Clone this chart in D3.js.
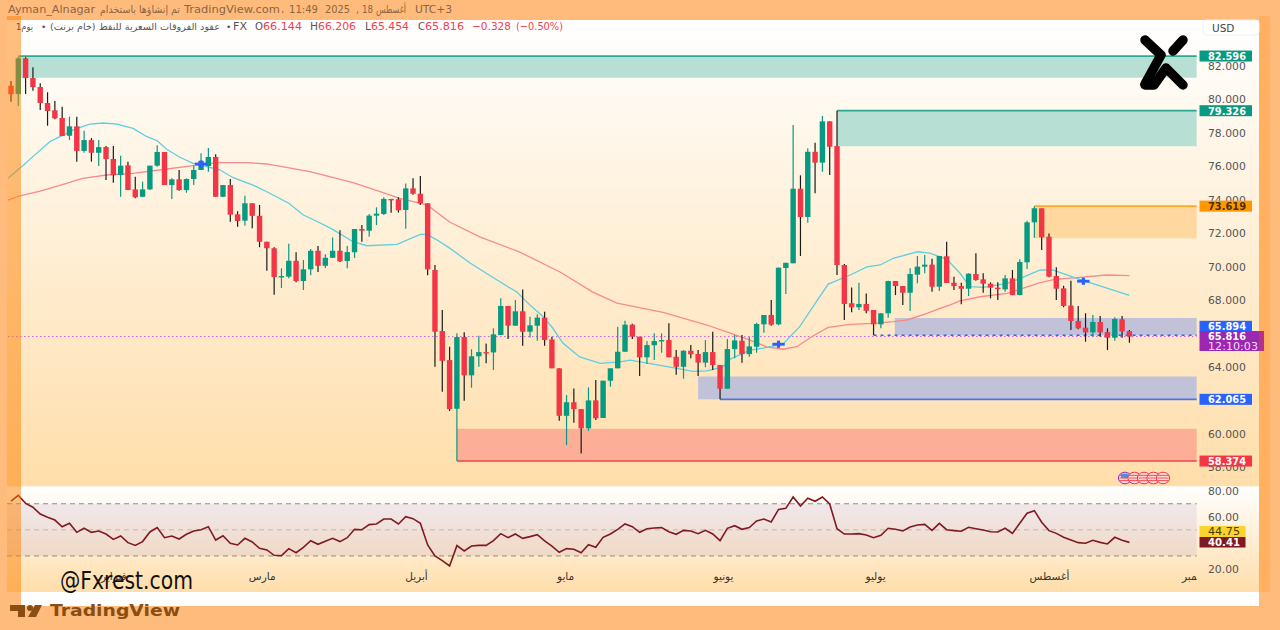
<!DOCTYPE html>
<html><head><meta charset="utf-8">
<script src="https://cdn.jsdelivr.net/npm/d3@7"></script>
<style>
html,body{margin:0;padding:0;background:#ffbb7c;width:1280px;height:630px;overflow:hidden}
svg{display:block}
text{font-family:"DejaVu Sans",sans-serif}
</style></head><body>
<svg id="c" width="1280" height="630"></svg>
<script>
const opens=[80.82,80.32,82.46,81.28,80.74,79.79,79.35,78.89,77.83,78.39,76.92,77.57,76.81,77.15,76.44,75.48,76.06,74.62,74.18,74.62,76.04,76.86,74.88,75.22,74.58,75.24,75.78,76.02,76.56,74.18,74.88,73.13,72.75,73.79,73.04,71.49,71.10,69.36,69.40,70.35,69.14,69.84,70.95,70.05,70.53,70.95,70.34,70.86,72.25,72.15,73.05,73.15,74.05,74.03,73.39,74.68,74.36,73.79,69.80,66.15,64.41,61.50,65.79,63.50,64.64,64.89,64.87,65.91,67.65,66.47,67.33,66.11,66.47,66.95,65.65,63.92,61.08,61.89,61.48,60.33,62.00,60.95,63.18,63.92,64.91,66.53,65.81,64.58,65.30,65.53,65.61,64.61,64.01,64.97,64.78,64.26,64.89,64.12,62.70,65.07,65.57,64.77,65.21,66.55,67.11,66.55,69.92,70.20,74.66,72.97,76.87,76.22,78.69,77.21,70.10,67.81,67.57,67.77,67.41,66.55,67.21,69.14,68.84,68.44,69.52,70.00,70.12,68.80,70.62,69.04,68.84,68.68,69.56,69.24,68.98,68.74,68.64,69.30,68.30,70.26,72.65,73.49,71.79,69.44,68.70,67.67,66.75,66.35,66.07,66.69,66.09,65.75,66.85,66.144];
const closes=[80.31,82.46,81.28,80.74,79.79,79.31,78.87,77.81,78.39,76.92,77.57,76.81,77.15,76.44,75.48,76.04,74.58,74.15,74.62,76.04,76.86,74.88,75.22,74.58,75.24,75.78,76.32,76.56,74.18,74.88,73.11,72.73,73.79,73.04,71.49,71.10,69.38,69.44,70.35,69.14,69.84,70.95,70.05,70.53,70.95,70.32,70.87,72.25,72.15,73.05,73.17,74.05,74.00,73.37,74.68,74.36,73.79,69.84,66.11,64.37,61.48,65.79,63.50,64.64,64.89,64.85,65.95,67.65,66.47,67.33,66.11,66.49,66.95,65.61,63.92,61.08,61.89,61.48,60.33,62.00,60.93,63.18,63.92,64.91,66.53,65.81,64.58,65.31,65.55,65.61,64.58,64.01,64.97,64.76,64.26,64.89,64.12,62.70,65.07,65.59,64.77,65.23,66.57,67.11,66.53,69.94,70.23,74.66,72.97,76.87,76.22,78.69,77.17,70.10,67.77,67.57,67.77,67.36,66.55,67.21,69.14,68.84,68.44,69.56,70.00,70.12,68.80,70.64,69.02,68.84,68.68,69.58,69.20,68.98,68.74,68.66,69.30,68.30,70.28,72.65,73.49,71.75,69.40,68.68,67.65,66.75,66.31,66.07,66.69,66.07,65.75,66.87,66.13,65.816];
const highs=[81.10,82.54,82.52,81.92,80.97,80.43,79.91,79.57,78.97,78.97,78.13,77.69,77.57,77.21,77.21,76.63,76.28,75.38,75.08,76.04,77.26,76.86,75.28,75.78,75.28,76.04,76.78,77.10,76.72,74.88,75.24,73.31,74.24,73.79,73.69,71.49,71.16,69.90,71.37,70.86,70.40,71.05,71.23,70.74,71.75,72.17,71.23,72.25,72.49,73.15,73.55,74.15,74.05,74.15,74.98,75.28,75.42,73.79,70.10,67.41,65.21,66.01,66.07,65.06,65.87,65.41,66.31,68.11,67.65,68.00,68.64,67.00,67.15,67.30,65.81,63.92,62.32,62.72,61.48,62.78,63.22,63.18,63.92,66.41,66.77,66.59,65.81,65.55,66.01,66.01,66.61,65.01,65.01,65.31,65.01,65.61,66.11,64.12,65.67,65.91,65.91,65.81,66.65,67.11,68.00,69.94,70.23,78.47,75.46,77.08,77.41,79.01,78.69,79.326,70.16,68.76,69.04,68.40,67.41,67.21,69.16,69.14,68.84,69.90,70.64,70.70,70.47,70.64,71.49,69.40,69.04,69.60,70.80,69.60,69.06,69.06,69.50,69.80,70.44,72.75,73.619,73.49,71.99,69.96,68.86,69.16,67.65,67.21,67.11,67.05,66.31,66.97,67.05,66.206];
const lows=[79.86,79.61,80.32,80.52,79.37,78.43,78.81,77.81,77.57,76.28,76.81,76.28,76.02,75.18,75.02,74.18,74.58,74.09,74.15,74.58,75.98,74.88,74.05,74.54,74.42,74.88,75.78,75.68,74.18,74.15,72.69,72.39,72.45,72.29,71.16,69.76,68.32,68.72,69.30,69.06,68.60,69.48,69.68,69.92,70.52,70.28,69.90,70.52,71.49,71.79,72.49,73.09,73.23,73.23,72.27,74.30,73.69,69.48,64.01,62.52,61.37,58.374,61.98,62.76,64.01,64.22,63.82,65.91,65.67,66.47,65.27,65.77,65.57,65.27,63.92,60.79,59.33,60.67,58.83,60.19,60.83,60.95,62.82,63.92,64.91,65.67,63.46,64.18,64.41,64.85,64.58,63.54,63.30,64.52,63.46,63.98,63.82,62.065,62.70,64.52,64.25,64.61,64.85,66.05,66.47,66.49,68.36,70.20,70.64,72.63,74.39,75.68,75.48,69.50,66.81,67.27,67.41,67.21,65.91,66.31,66.95,68.30,67.71,67.35,69.00,69.60,68.50,68.54,69.02,68.60,67.75,68.24,69.16,68.44,68.10,68.00,68.50,68.30,68.29,69.86,71.73,71.00,69.36,68.00,67.57,66.21,66.25,65.51,65.81,65.81,65.01,65.57,65.75,65.454];
const cyanIdx=[-0.4,1.2,3,5.3,7.1,9,10.8,12.6,14.5,16.7,18.6,20,21.3,23.1,24.9,25.9,28.6,30.4,33.1,35,38,40,42.3,44,46.8,48.7,52.8,56,56.9,58.3,60,62.8,66.5,69.2,71,72.8,74.1,75.5,77.8,80.6,83.3,84.7,89.2,93.3,95.2,97.4,98.4,101.1,102.9,105.6,107.9,109.7,111.8,114.8,117.1,118.9,120.7,124,125.7,127.1,128,129.8,131.2,133,136.3,138.4,140.8,142.5,146.2,153];
const cyanVal=[75.28,75.88,76.58,77.47,77.87,78.27,78.53,78.59,78.53,78.27,77.77,77.53,77.02,76.54,76.18,76.08,75.78,75.32,74.88,74.48,73.79,73.09,72.61,72.23,71.49,71.25,71.33,71.93,71.93,71.59,71.11,70.22,69.20,68.48,67.70,67.00,66.33,65.43,64.60,64.22,64.31,64.41,64.06,63.74,63.77,64.01,64.47,65.01,65.13,65.36,66.41,67.60,68.96,69.50,69.99,70.10,70.50,70.89,70.81,70.59,70.46,69.62,68.80,68.76,69.00,69.36,69.80,69.80,69.24,68.28];
const redMaIdx=[-0.4,1.2,4,7.7,9.8,13.1,16.7,21.3,24.9,28.2,32.3,35,40.9,46.8,50.5,53.2,56.9,60,64.2,69.6,75.1,76.9,79.6,82.9,89.2,95.2,98.4,101.1,103.4,105.6,107.5,109.7,111.8,114.8,117.9,120.7,122.6,125.3,127.1,128.5,129.8,132.6,136.3,138.4,140.8,142.8,146.2,149.9,153];
const redMaVal=[73.98,74.24,74.52,74.99,75.28,75.48,75.58,75.84,76.04,76.22,76.22,76.14,75.68,75.02,74.48,74.09,73.69,72.67,71.77,70.87,69.68,69.20,68.48,67.82,67.27,66.51,66.03,65.61,65.20,65.06,65.21,65.85,66.37,66.55,66.61,66.71,66.81,67.21,67.51,67.71,67.95,68.20,68.40,68.70,69.04,69.24,69.36,69.50,69.46];
const rsi=[72.1,76.5,70.3,67.3,62.1,59.6,57.5,52.4,55.0,48.1,51.2,48.1,49.1,46.8,42.7,45.3,40.2,38.1,41.0,48.4,51.7,44.0,45.3,43.0,46.6,49.1,50.1,52.4,42.2,45.5,39.7,38.4,43.5,40.7,35.9,34.6,30.5,30.2,35.6,32.5,36.6,41.7,38.9,41.2,43.5,41.0,44.0,50.4,50.1,54.0,54.5,58.3,58.3,54.5,60.1,58.6,55.0,38.4,30.0,26.4,22.3,37.9,33.8,37.6,38.1,38.1,41.7,47.1,44.0,46.8,43.5,44.8,46.3,41.5,37.6,32.8,35.6,35.1,32.5,38.6,36.6,44.3,46.8,50.4,54.5,52.4,48.1,50.9,51.4,51.7,48.6,46.6,49.6,49.1,47.1,49.6,46.8,41.7,51.2,53.2,50.4,51.7,56.8,58.3,56.0,65.7,66.5,75.2,68.3,74.2,71.9,75.2,69.8,50.9,46.8,46.8,47.1,46.1,44.0,45.8,51.2,50.4,49.1,52.2,53.7,54.2,49.6,55.0,50.1,49.4,48.9,52.0,50.9,49.9,48.6,48.4,51.2,47.3,55.0,62.7,64.7,55.8,49.4,47.3,44.3,42.2,40.2,39.7,42.0,40.4,39.2,44.3,42.0,40.41];
const priceTicks=[82,80,78,76,74,72,70,68,64,60,58];
const rsiTicks=[80,60,20];
const monthNames=["فبراير","مارس","أبريل","مايو","يونيو","يوليو","أغسطس","سبتمبر"];
const monthIdx=[14,34.3,55.4,75.8,97.4,118.2,142,162.2];
const zoneStart=[1,113,140,120.9,94,61];
const zoneTop=[82.596,79.326,73.619,66.93,63.43,60.3];
const zoneBottom=[81.3,77.2,71.7,65.894,62.065,58.374];
const zoneFill=["#b7dfd3","#b7dfd3","#ffd8a0","#c1c2d8","#c1c2d8","#fcae97"];
const plusIdx=[26,105,146.7];
const plusPrice=[76.14,65.36,69.13];
const eventIdx=[152.4,153.7,155,156.3,157.6];
const tagVal=["82.596","79.326","73.619","65.894","62.065","58.374"];
const tagPrice=[82.596,79.326,73.619,65.894,62.065,58.374];
const tagFill=["#089981","#089981","#ff9800","#2962ff","#2962ff","#f23645"];
const tagText=["#fff","#fff","#4a3000","#fff","#fff","#fff"];

const svg=d3.select("#c");
const X0=21,XR=1259,PANEL_T=20,PANEL_B=487,RSI_B=592;
const x=d3.scaleLinear().domain([0,153]).range([11,1129.4]);
const y=d3.scaleLinear().domain([82,58]).range([66,467.3]);
const yr=d3.scaleLinear().domain([80,20]).range([490.7,569]);
const XZ=x(162.2);

const defs=svg.append("defs");
const g1=defs.append("linearGradient").attr("id","pg").attr("x1",0).attr("x2",0).attr("y1",0).attr("y2",1);
g1.append("stop").attr("offset",0).attr("stop-color","#ffffff");
g1.append("stop").attr("offset",1).attr("stop-color","#ffdeaa");
const g2=defs.append("linearGradient").attr("id","rg").attr("x1",0).attr("x2",0).attr("y1",0).attr("y2",1);
g2.append("stop").attr("offset",0).attr("stop-color","#ffffff");
g2.append("stop").attr("offset",1).attr("stop-color","#ffdeaa");
defs.append("clipPath").attr("id","clipX").append("rect").attr("x",8).attr("y",0).attr("width",XZ-8).attr("height",630);

// panels
svg.append("rect").attr("x",0).attr("y",0).attr("width",1280).attr("height",630).attr("fill","#ffbb7c");
svg.append("rect").attr("x",X0).attr("y",592).attr("width",XR-X0).attr("height",14).attr("fill","#ffffff");
svg.append("rect").attr("x",7).attr("y",PANEL_T).attr("width",XR-7).attr("height",PANEL_B-PANEL_T).attr("fill","url(#pg)");
svg.append("rect").attr("x",7).attr("y",PANEL_B).attr("width",XR-7).attr("height",RSI_B-PANEL_B).attr("fill","url(#rg)");
svg.append("rect").attr("x",7).attr("y",PANEL_B-1).attr("width",XR-7).attr("height",1).attr("fill","#fff6e8");

// zones
zoneStart.forEach((s,i)=>{
  svg.append("rect").attr("x",x(s)).attr("y",y(zoneTop[i])).attr("width",XZ-x(s))
    .attr("height",y(zoneBottom[i])-y(zoneTop[i])).attr("fill",zoneFill[i]);
});
const hline=(a,p,color,w,dash)=>svg.append("line").attr("x1",x(a)).attr("x2",XZ).attr("y1",y(p)).attr("y2",y(p))
  .attr("stroke",color).attr("stroke-width",w).attr("stroke-dasharray",dash||null);
hline(1,82.596,"#2fa893",1.8);
hline(113,79.326,"#2fa893",1.8);
hline(140,73.619,"#ffa726",1.8);
hline(97,62.065,"#4a74ee",1.6);
hline(61,58.374,"#f2404f",1.6);
hline(118,65.894,"#2962ff",1.4,"3 4");
svg.append("line").attr("x1",8).attr("x2",XZ).attr("y1",y(65.816)).attr("y2",y(65.816))
  .attr("stroke","#c75ad6").attr("stroke-width",1).attr("stroke-dasharray","1.5 2.5");

// moving averages
const maLine=d3.line().x(d=>x(d[0])).y(d=>y(d[1]));
svg.append("path").attr("d",maLine(d3.zip(redMaIdx,redMaVal))).attr("fill","none").attr("stroke","#f88a8c").attr("stroke-width",1.3);
svg.append("path").attr("d",maLine(d3.zip(cyanIdx,cyanVal))).attr("fill","none").attr("stroke","#5ccfe0").attr("stroke-width",1.3);

// candles
const idx=d3.range(opens.length);
const up=i=>closes[i]>=opens[i];
const GREEN="#089981",RED="#f23645";
svg.append("g").selectAll("line").data(idx).join("line")
  .attr("x1",i=>x(i)).attr("x2",i=>x(i)).attr("y1",i=>y(highs[i])).attr("y2",i=>y(lows[i]))
  .attr("stroke",i=>up(i)?GREEN:"#1a1a1a").attr("stroke-width",1.2);
svg.append("g").selectAll("rect").data(idx).join("rect")
  .attr("x",i=>x(i)-2.7).attr("width",5.4)
  .attr("y",i=>y(Math.max(opens[i],closes[i])))
  .attr("height",i=>Math.max(1.4,Math.abs(y(opens[i])-y(closes[i]))))
  .attr("fill",i=>up(i)?GREEN:RED);

// plus markers
plusIdx.forEach((p,i)=>{
  const g=svg.append("g").attr("transform",`translate(${x(p)},${y(plusPrice[i])})`);
  g.append("rect").attr("x",-6.2).attr("y",-1.4).attr("width",12.4).attr("height",2.8).attr("fill","#2962ff");
  g.append("rect").attr("x",-1.6).attr("y",-3.6).attr("width",3.2).attr("height",7.2).attr("fill","#2962ff");
});

// event icons
eventIdx.forEach((e,i)=>{
  const g=svg.append("g").attr("transform",`translate(${x(e)},478)`);
  g.append("ellipse").attr("rx",6.6).attr("ry",5.8).attr("fill","#ffd9d6").attr("stroke",i==0?"#9c27b0":"#f23645").attr("stroke-width",1);
  [-2.6,0,2.6].forEach(d=>g.append("line").attr("x1",-5.6).attr("x2",5.6).attr("y1",d).attr("y2",d).attr("stroke","#f2505e").attr("stroke-width",1));
  if(i==0) g.append("rect").attr("x",-4).attr("y",-4.4).attr("width",7.5).attr("height",4.4).attr("fill","#4a90e2");
});

// RSI
const rf=[[70,30]];
svg.append("rect").attr("x",7).attr("width",XZ-7).attr("y",yr(rf[0][0])).attr("height",yr(rf[0][1])-yr(rf[0][0]))
  .attr("fill","#7a5ac0").attr("fill-opacity",.11);
[70,50,30].forEach((v,i)=>svg.append("line").attr("x1",7).attr("x2",XZ).attr("y1",yr(v)).attr("y2",yr(v))
  .attr("stroke",i==1?"#bdb7ad":"#8d8d92").attr("stroke-width",1).attr("stroke-dasharray","5 4"));
svg.append("path").attr("d",d3.line().x((d,i)=>x(i)).y(d=>yr(d))(rsi)).attr("fill","none").attr("stroke","#801922").attr("stroke-width",1.6);

// x axis
const gx=svg.append("g").attr("clip-path","url(#clipX)").append("g").attr("transform","translate(0,570)")
  .call(d3.axisBottom(x).tickValues(monthIdx).tickSize(0).tickFormat((d,i)=>monthNames[i]));
gx.select(".domain").remove();
gx.selectAll("text").attr("font-size",10.5).attr("fill","#333").attr("font-family","DejaVu Sans");

// price axes
const gy=svg.append("g").attr("transform","translate(1200,0)")
  .call(d3.axisRight(y).tickValues(priceTicks).tickSize(0).tickPadding(8).tickFormat(d3.format(".3f")));
gy.select(".domain").remove();
gy.selectAll("text").attr("font-size",10.8).attr("fill","#555").attr("font-family","DejaVu Sans");
const gr=svg.append("g").attr("transform","translate(1200,0)")
  .call(d3.axisRight(yr).tickValues(rsiTicks).tickSize(0).tickPadding(8).tickFormat(d3.format(".2f")));
gr.select(".domain").remove();
gr.selectAll("text").attr("font-size",10.8).attr("fill","#555").attr("font-family","DejaVu Sans");

// overlay bands
svg.append("rect").attr("x",7).attr("y",16).attr("width",14).attr("height",576).attr("fill","#ff7f00").attr("fill-opacity",.5);
svg.append("rect").attr("x",1259).attr("y",16).attr("width",11).attr("height",576).attr("fill","#ffb060");

// tags
tagVal.forEach((t,i)=>{
  const cy=y(tagPrice[i]);
  const dy=i==3?-9:0;
  svg.append("rect").attr("x",1199.5).attr("y",cy-5.5+dy).attr("width",52.5).attr("height",11).attr("fill",tagFill[i]);
  svg.append("text").attr("x",1208).attr("y",cy+dy+4).attr("font-size",10.5).attr("font-weight",700).attr("fill",tagText[i])
    .attr("textLength",38).attr("lengthAdjust","spacingAndGlyphs").text(t);
});
svg.append("rect").attr("x",1199.5).attr("y",331).attr("width",64.5).attr("height",20).attr("fill","#9c27b0");
svg.append("rect").attr("x",1259).attr("y",331).attr("width",5).attr("height",20).attr("fill","#c8386f").attr("fill-opacity",.6);
svg.append("text").attr("x",1208).attr("y",340).attr("font-size",10.5).attr("font-weight",700).attr("fill","#fff").attr("textLength",38).attr("lengthAdjust","spacingAndGlyphs").text("65.816");
svg.append("text").attr("x",1208).attr("y",350).attr("font-size",10).attr("fill","#f3dcf7").attr("textLength",50).attr("lengthAdjust","spacingAndGlyphs").text("12:10:03");
svg.append("rect").attr("x",1199.5).attr("y",526).attr("width",46).attr("height",11).attr("fill","#fbd32e");
svg.append("text").attr("x",1208).attr("y",535).attr("font-size",10.5).attr("fill","#4a3c00").attr("textLength",32).attr("lengthAdjust","spacingAndGlyphs").text("44.75");
svg.append("rect").attr("x",1199.5).attr("y",537).attr("width",46).attr("height",10.5).attr("fill","#801922");
svg.append("text").attr("x",1208).attr("y",546).attr("font-size",10.5).attr("font-weight",700).attr("fill","#fff").attr("textLength",32).attr("lengthAdjust","spacingAndGlyphs").text("40.41");

// USD box
svg.append("rect").attr("x",1203).attr("y",20).attr("width",56).attr("height",15).attr("rx",3).attr("fill","#fff").attr("stroke","#f4efe8");
svg.append("text").attr("x",1212).attr("y",32).attr("font-size",10.5).attr("fill","#444").text("USD");

// header text
const headColor="#8a6642";
const put=(t,a,w,yy,fill,fs,fw)=>svg.append("text").attr("x",a).attr("y",yy).attr("font-size",fs||10).attr("fill",fill).attr("font-weight",fw||400)
  .attr("textLength",w).attr("lengthAdjust","spacingAndGlyphs").text(t);
[["Ayman_Alnagar",8,87],["تم إنشاؤها باستخدام",100,80],["TradingView.com",184,96],["،",281,3],["11:49",289,29],["2025",325,25],[",",356,3],["18",362,11],["أغسطس",376,30],["UTC+3",415,37]]
  .forEach(d=>put(d[0],d[1],d[2],13,headColor,10.5));
const lab="#555",val="#f2404f";
put("1يوم",16,17,30,lab,9.5);
svg.append("text").attr("x",41).attr("y",30).attr("font-size",9).attr("fill",lab).text("•");
put("عقود الفروقات السعرية للنفط (خام برنت)",50,170,30,lab,9.5);
svg.append("text").attr("x",226).attr("y",30).attr("font-size",9).attr("fill",lab).text("•");
put("FX",233,14,30,lab,10.5);
[["O",255,8,lab],["66.144",263,39,val],["H",310,8,lab],["66.206",318,38,val],["L",365,6,lab],["65.454",371,38,val],["C",418,7,lab],["65.816",425,39,val],["−0.328",472,39,val],["(−0.50%)",516,47,val]]
 .forEach(d=>put(d[0],d[1],d[2],30,d[3],10.5));

// logo X
const k=svg.append("g").attr("fill","none").attr("stroke","#000").attr("stroke-width",9.5).attr("stroke-linecap","round").attr("stroke-linejoin","round");
k.append("path").attr("d","M1145 40 L1161 55 L1145 84");
k.append("path").attr("d","M1145 85 L1154 85 L1166 68 L1183 85");
k.append("path").attr("d","M1183 40 L1173 51");

// watermark
svg.append("text").attr("x",60).attr("y",589).attr("font-size",25).attr("fill","#111").attr("font-family","Liberation Sans Narrow")
  .attr("textLength",133).attr("lengthAdjust","spacingAndGlyphs").text("@Fxrest.com");

// TradingView logo
const tv="#8a4d12";
svg.append("path").attr("fill",tv).attr("d","M10 605H25V617H18V611H10Z");
svg.append("circle").attr("cx",30).attr("cy",608).attr("r",3).attr("fill",tv);
svg.append("path").attr("fill",tv).attr("d","M35 605H42L36 617H28Z");
svg.append("text").attr("x",50).attr("y",616).attr("font-size",15).attr("font-weight",700).attr("fill",tv)
  .attr("textLength",130).attr("lengthAdjust","spacingAndGlyphs").text("TradingView");
</script>
</body></html>
